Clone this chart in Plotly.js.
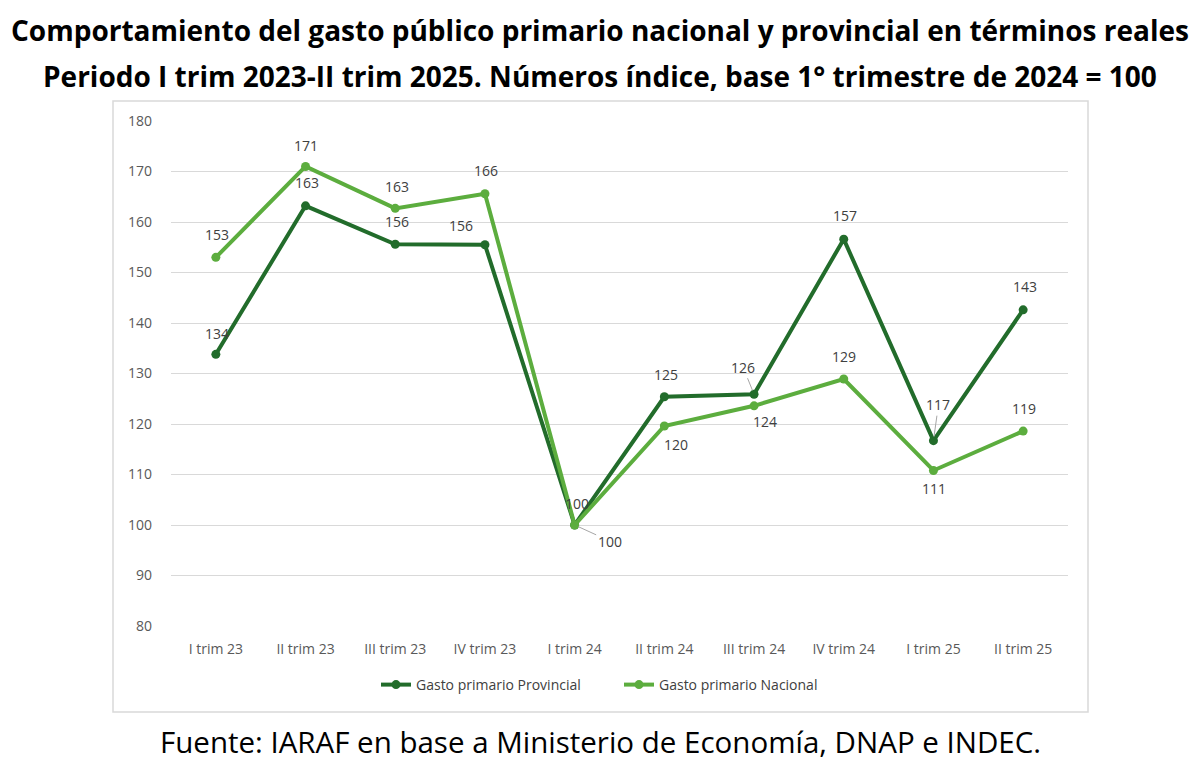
<!DOCTYPE html>
<html>
<head>
<meta charset="utf-8">
<script src="https://cdn.plot.ly/plotly-3.0.1.min.js"></script>
<style>
  html, body { margin: 0; padding: 0; background: #ffffff; }
  #chart { width: 1200px; height: 770px; }
</style>
</head>
<body>
<div id="chart"></div>
<script>
// Quarters on the x axis
const quarters = ["I trim 23", "II trim 23", "III trim 23", "IV trim 23", "I trim 24",
                  "II trim 24", "III trim 24", "IV trim 24", "I trim 25", "II trim 25"];

// Index numbers, base Q1 2024 = 100
const provincial = [133.8, 163.2, 155.6, 155.5, 100.0, 125.4, 125.9, 156.6, 116.7, 142.6];
const nacional   = [153.0, 171.0, 162.7, 165.6, 100.0, 119.6, 123.6, 128.9, 110.8, 118.6];

const seriesNames = ["Gasto primario Provincial", "Gasto primario Nacional"];

// Label offsets (pixels) relative to each point, and whether a leader line is drawn
const provLabelPos = [[1,-21],[1,-23],[2,-23],[-24,-19],[2,-22],[2,-22],[-11,-27],[1,-24],[5,-36],[2,-23]];
const provLeader   = [false,false,false,false,false,false,true,false,true,false];
const nacLabelPos  = [[1,-23],[0,-21],[2,-22],[1,-23],[35,16],[12,18],[11,16],[0,-23],[1,18],[1,-23]];
const nacLeader    = [false,false,false,false,true,false,false,false,false,false];

const colProv = "#226C2B";
const colNac  = "#5CAD3E";
const textGray = "#404040";
const font = "'Open Sans', 'Noto Sans', sans-serif";
const centerX = (600 - 171) / 897;

const traces = [
  {
    x: quarters, y: provincial, name: seriesNames[0], type: "scatter", mode: "lines+markers",
    line: { color: colProv, width: 4 }, marker: { color: colProv, size: 9 }
  },
  {
    x: quarters, y: nacional, name: seriesNames[1], type: "scatter", mode: "lines+markers",
    line: { color: colNac, width: 4 }, marker: { color: colNac, size: 9 }
  }
];

function labels(values, pos, leader) {
  return values.map((v, i) => ({
    x: quarters[i], y: v, xref: "x", yref: "y",
    text: String(Math.round(v)),
    showarrow: true,
    arrowhead: 0, arrowwidth: leader[i] ? 1 : 0.01,
    arrowcolor: leader[i] ? "#a6a6a6" : "rgba(0,0,0,0)",
    standoff: leader[i] ? 4 : 0,
    ax: pos[i][0], ay: pos[i][1],
    font: { family: font, size: 14, color: textGray }
  }));
}

const annotations = [
  ...labels(provincial, provLabelPos, provLeader),
  ...labels(nacional, nacLabelPos, nacLeader),
  {
    xref: "paper", yref: "paper", x: centerX, y: (626 - 30) / 505, xanchor: "center", yanchor: "middle",
    text: "<b>Comportamiento del gasto público primario nacional y provincial en términos reales</b>",
    showarrow: false, font: { family: font, size: 28, color: "#000000" }
  },
  {
    xref: "paper", yref: "paper", x: centerX, y: (626 - 76) / 505, xanchor: "center", yanchor: "middle",
    text: "<b>Periodo I trim 2023-II trim 2025. Números índice, base 1° trimestre de 2024 = 100</b>",
    showarrow: false, font: { family: font, size: 28, color: "#000000" }
  },
  {
    xref: "paper", yref: "paper", x: centerX, y: (626 - 741) / 505, xanchor: "center", yanchor: "middle",
    text: "Fuente: IARAF en base a Ministerio de Economía, DNAP e INDEC.",
    showarrow: false, font: { family: font, size: 29.5, color: "#000000" }
  }
];

const layout = {
  width: 1200, height: 770,
  margin: { l: 171, r: 132, t: 121, b: 144 },
  paper_bgcolor: "#ffffff", plot_bgcolor: "#ffffff",
  showlegend: true,
  legend: {
    orientation: "h", x: (376 - 171) / 897, y: (626 - 685) / 505, xanchor: "left", yanchor: "middle",
    entrywidth: 198, entrywidthmode: "pixels",
    font: { family: font, size: 14, color: textGray }, bgcolor: "rgba(0,0,0,0)"
  },
  xaxis: {
    type: "category", range: [-0.5, 9.5], showgrid: false, zeroline: false, showline: false,
    ticks: "", tickfont: { family: font, size: 14, color: "#595959" }, ticklabelstandoff: 13,
    fixedrange: true
  },
  yaxis: {
    range: [80, 180], dtick: 10, showgrid: true, gridcolor: "#d9d9d9", gridwidth: 1,
    zeroline: false, showline: false, ticks: "",
    tickfont: { family: font, size: 14, color: "#595959" }, ticklabelstandoff: 18,
    fixedrange: true
  },
  shapes: [
    {
      type: "rect", xref: "paper", yref: "paper", layer: "below",
      x0: (113 - 171) / 897, x1: (1088 - 171) / 897,
      y0: (626 - 712) / 505, y1: (626 - 101) / 505,
      line: { color: "#d9d9d9", width: 1.5 }, fillcolor: "rgba(0,0,0,0)"
    }
  ],
  annotations: annotations
};

Plotly.newPlot("chart", traces, layout, { displayModeBar: false, staticPlot: true });
</script>
</body>
</html>
